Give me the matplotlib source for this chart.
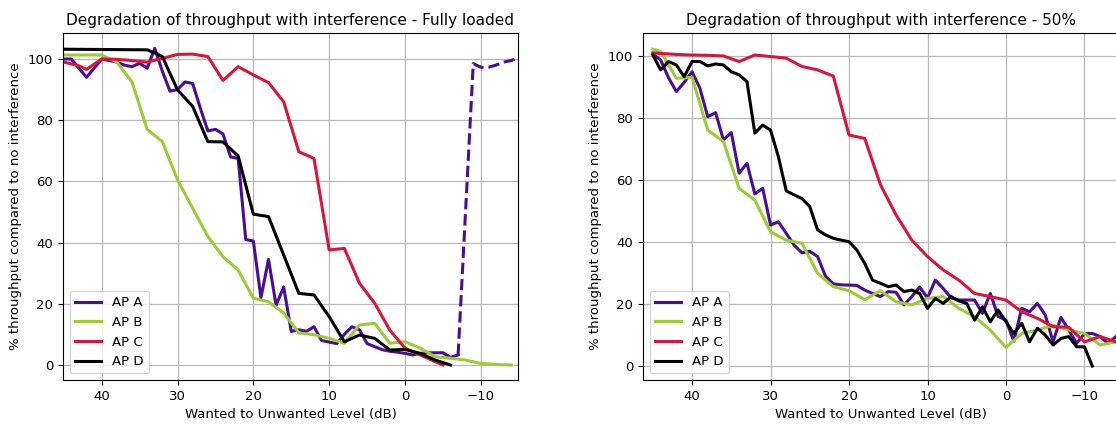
import numpy as np
import matplotlib
matplotlib.use("Agg")
import matplotlib.pyplot as plt

# ---------------------------------------------------------------
# 数据：左图（Fully loaded）
# ---------------------------------------------------------------
full_a_x = list(range(45, -8, -1))
full_a_y = [100, 100, 97, 94, 97, 100, 99.5, 99, 98, 97.5, 98.6, 97, 103.5, 96,
            89.5, 90, 92.5, 92, 84, 76.5, 77, 75.5, 68, 67.5, 41, 40.5, 22, 34.5,
            19.5, 25.5, 11, 11.5, 11, 12.5, 8, 7.5, 7, 10, 12.5, 11.5, 7, 6, 5,
            4.5, 4.2, 3.8, 3.3, 3.8, 4, 4, 4, 2.5, 3.3]
full_a_dash_x = [-7, -9, -10, -11, -12, -13, -14, -15]
full_a_dash_y = [3.3, 98.5, 97.3, 97.3, 98, 99, 99.5, 100.5]

full_b_x = [45, 42, 40, 38, 36, 34, 32, 30, 28, 26, 24, 22, 20, 18, 16, 14, 12,
            10, 8, 6, 4, 2, 0, -2, -4, -6, -8, -10, -12, -14]
full_b_y = [101.3, 101.3, 101.3, 99, 92.5, 77, 73, 60.5, 51.2, 42, 35.4, 31,
            21.8, 20.7, 17, 10.5, 9.9, 8.7, 7.1, 13.1, 13.6, 7.1, 7.6, 5.5, 2.7,
            2.2, 1.6, 0.5, 0.2, 0]

full_c_x = [45, 43, 42, 40, 38, 36, 34, 32, 30, 28, 26, 24, 22, 20, 18, 16, 14,
            12, 10, 8, 6, 4, 2, 0, -2, -5]
full_c_y = [99, 97.8, 96.6, 100, 99.9, 99.5, 99, 100.2, 101.5, 101.6, 100.8, 93,
            97.5, 94.8, 92.3, 86, 69.7, 67.5, 37.6, 38.1, 26.7, 20.2, 11.4, 5.5,
            3.3, 0]

full_d_x = [45, 34, 33, 32, 30, 28, 26, 24, 22, 20, 18, 14, 12, 10, 8, 6, 4, 2,
            0, -2, -4, -6]
full_d_y = [103.2, 103, 102, 100.8, 89.9, 84.5, 73, 72.9, 68.3, 49.3, 48.5, 23.4,
            22.9, 15.8, 7.6, 9.8, 8.7, 4.9, 5.1, 3.8, 1.6, 0]

# ---------------------------------------------------------------
# 数据：右图（50%）
# ---------------------------------------------------------------
half_a_x = list(range(45, -15, -1))
half_a_y = [100.6, 98.7, 93, 88.5, 91.5, 94.9, 89.6, 80.4, 81.7, 72.9, 75.3,
            62.2, 65.4, 55.5, 57.3, 45.5, 46.5, 42.8, 39, 36.5, 37, 35.3, 29,
            26.5, 26.2, 26.1, 26, 24.5, 23.4, 22.4, 24, 23.8, 19.7, 22.4, 25.5,
            22, 27.7, 25, 22, 21.3, 21.3, 21.3, 17, 23.4, 16, 14.8, 8, 18.6,
            17.5, 20.2, 16.5, 7.8, 15.7, 11.6, 7.3, 10.5, 10.5, 9.5, 7.3, 9.5]

half_b_x = [45, 44, 42, 40, 38, 36, 34, 32, 30, 28, 26, 24, 22, 20, 18, 16, 14,
            12, 10, 8, 6, 4, 2, 0, -2, -4, -6, -8, -10, -12, -14]
half_b_y = [102.2, 101.4, 92.8, 93.1, 76.1, 72.4, 57.3, 53.5, 43.3, 40.6, 39.6,
            29.9, 25.6, 24.3, 21.4, 24.3, 20.7, 19.7, 21.8, 22.4, 18.6, 15.9,
            11.6, 6, 10.5, 11.6, 13.2, 11.6, 10.5, 6.8, 7.8]

half_c_x = [45, 44, 42, 40, 38, 36, 34, 32, 30, 28, 26, 24, 22, 20, 18, 16, 14,
            12, 10, 8, 6, 4, 2, 0, -2, -4, -6, -8, -10, -12, -14]
half_c_y = [101, 100.8, 100.5, 100.3, 100.2, 100, 98.2, 100.3, 99.8, 99.3, 96.6,
            95.5, 93.5, 74.5, 73.4, 58.5, 48.7, 40.6, 35.3, 31, 27.7, 23.4, 22.4,
            21.3, 17.5, 15.4, 12.7, 12.5, 7.8, 9.5, 7.8]

half_d_x = list(range(45, -12, -1))
half_d_y = [100.3, 95.5, 98.2, 97.1, 93.3, 98.2, 98.2, 96.8, 97.4, 97.1, 94.9,
            93.9, 91.7, 75.1, 77.7, 76.1, 67.5, 56.5, 55.2, 54, 51.4, 43.9, 42.3,
            41.2, 40.6, 40.1, 37.4, 33.1, 27.7, 26.7, 25.6, 26.1, 24, 24.5, 23.4,
            18.6, 21.8, 20.2, 22.4, 21, 20.2, 14.8, 19.1, 14.3, 18.1, 14.3, 10.5,
            13.8, 7.8, 12.2, 10, 6.8, 8.9, 9.5, 6.2, 6.2, 0]

labels = ['AP A', 'AP B', 'AP C', 'AP D']
colors = ['#4b0c96', '#9acd32', '#dc143c', 'black']

# ---------------------------------------------------------------
# 绘图
# ---------------------------------------------------------------
plt.rcParams['xtick.labelsize'] = 9.5
plt.rcParams['ytick.labelsize'] = 9.5
plt.rcParams['axes.labelsize'] = 9.5
plt.rcParams['legend.fontsize'] = 9.5

fig = plt.figure(figsize=(11.16, 4.25), dpi=100)
ax1 = fig.add_axes([63 / 1116, 45 / 425, 455 / 1116, 347 / 425])
ax2 = fig.add_axes([643 / 1116, 45 / 425, 476 / 1116, 347 / 425])

lw = 2.2

# 左图
ax1.plot(full_a_x, full_a_y, color=colors[0], lw=lw, label=labels[0])
ax1.plot(full_a_dash_x, full_a_dash_y, color=colors[0], lw=lw, ls='--')
ax1.plot(full_b_x, full_b_y, color=colors[1], lw=lw, label=labels[1])
ax1.plot(full_c_x, full_c_y, color=colors[2], lw=lw, label=labels[2])
ax1.plot(full_d_x, full_d_y, color=colors[3], lw=lw, label=labels[3])
ax1.set_xlim(45.1, -14.9)
ax1.set_ylim(-4.9, 108.5)
ax1.set_title('Degradation of throughput with interference - Fully loaded', fontsize=11)

# 右图
ax2.plot(half_a_x, half_a_y, color=colors[0], lw=lw, label=labels[0])
ax2.plot(half_b_x, half_b_y, color=colors[1], lw=lw, label=labels[1])
ax2.plot(half_c_x, half_c_y, color=colors[2], lw=lw, label=labels[2])
ax2.plot(half_d_x, half_d_y, color=colors[3], lw=lw, label=labels[3])
ax2.set_xlim(46.25, -14.4)
ax2.set_ylim(-4.5, 107.4)
ax2.set_title('Degradation of throughput with interference - 50%', fontsize=11)

for ax in (ax1, ax2):
    ax.set_xticks([40, 30, 20, 10, 0, -10])
    ax.set_yticks([0, 20, 40, 60, 80, 100])
    ax.grid(True, color='#b8b8b8', lw=0.9)
    ax.set_xlabel('Wanted to Unwanted Level (dB)')
    ax.set_ylabel('% throughput compared to no interference')
    ax.legend(loc='lower left')

fig.savefig('out.png', dpi=100)
